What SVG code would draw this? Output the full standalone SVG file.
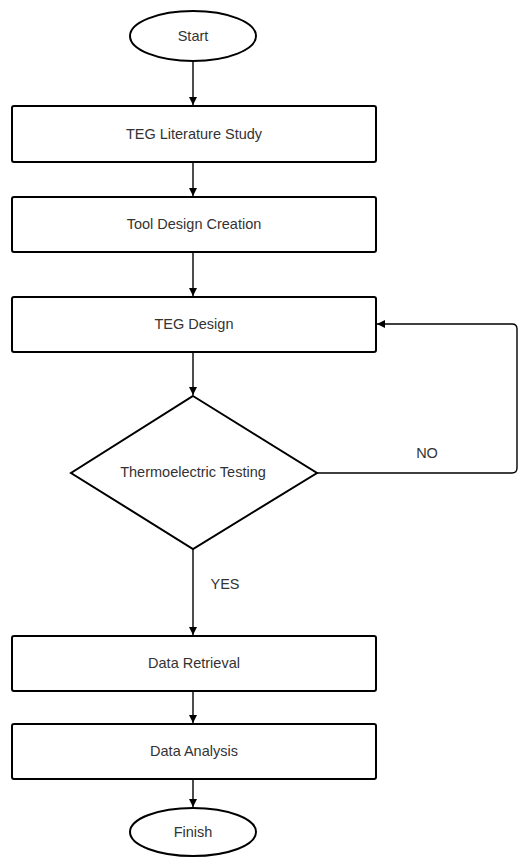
<svg xmlns="http://www.w3.org/2000/svg" width="519" height="857" viewBox="0 0 519 857">
<style>
.shape{fill:#fff;stroke:#000;stroke-width:2}
.lbl{font-family:"Liberation Sans",Arial,sans-serif;font-size:14.5px;fill:#333;text-anchor:middle;dominant-baseline:central}
.edge{fill:none;stroke:#000;stroke-width:1.4}
</style>
<defs>
<marker id="arr" viewBox="0 0 10 10" refX="10" refY="5" markerWidth="8" markerHeight="8" markerUnits="userSpaceOnUse" orient="auto">
<path d="M0,0 L10,5 L0,10 z" fill="#000"/>
</marker>
</defs>
<rect width="519" height="857" fill="#fff"/>
<g id="connectors">
<path class="edge" d="M193,62 V105" marker-end="url(#arr)"/>
<path class="edge" d="M193,162 V196" marker-end="url(#arr)"/>
<path class="edge" d="M193,252 V296" marker-end="url(#arr)"/>
<path class="edge" d="M193,352 V395" marker-end="url(#arr)"/>
<path class="edge" d="M193,549 V635" marker-end="url(#arr)"/>
<path class="edge" d="M193,691 V723" marker-end="url(#arr)"/>
<path class="edge" d="M193,779 V807" marker-end="url(#arr)"/>
<path class="edge" d="M317,473 H512 Q517,473 517,468 V329 Q517,324 512,324 H377" marker-end="url(#arr)"/>
<text class="lbl" x="427" y="453">NO</text>
<text class="lbl" x="225" y="584">YES</text>
</g>
<g id="start">
<ellipse class="shape" cx="193" cy="36" rx="63" ry="25"/>
<text class="lbl" x="193" y="36">Start</text>
</g>
<g id="teg-literature">
<rect class="shape" x="12" y="106" width="364" height="56" rx="2"/>
<text class="lbl" x="194" y="134">TEG Literature Study</text>
</g>
<g id="tool-design">
<rect class="shape" x="12" y="197" width="364" height="55" rx="2"/>
<text class="lbl" x="194" y="224">Tool Design Creation</text>
</g>
<g id="teg-design">
<rect class="shape" x="12" y="297" width="364" height="55" rx="2"/>
<text class="lbl" x="194" y="324">TEG Design</text>
</g>
<g id="testing">
<polygon class="shape" points="193,396 317,473 193,549 71,473"/>
<text class="lbl" x="193" y="472">Thermoelectric Testing</text>
</g>
<g id="data-retrieval">
<rect class="shape" x="12" y="636" width="364" height="55" rx="2"/>
<text class="lbl" x="194" y="663">Data Retrieval</text>
</g>
<g id="data-analysis">
<rect class="shape" x="12" y="724" width="364" height="55" rx="2"/>
<text class="lbl" x="194" y="751">Data Analysis</text>
</g>
<g id="finish">
<ellipse class="shape" cx="193" cy="832" rx="63" ry="24"/>
<text class="lbl" x="193" y="832">Finish</text>
</g>
</svg>
